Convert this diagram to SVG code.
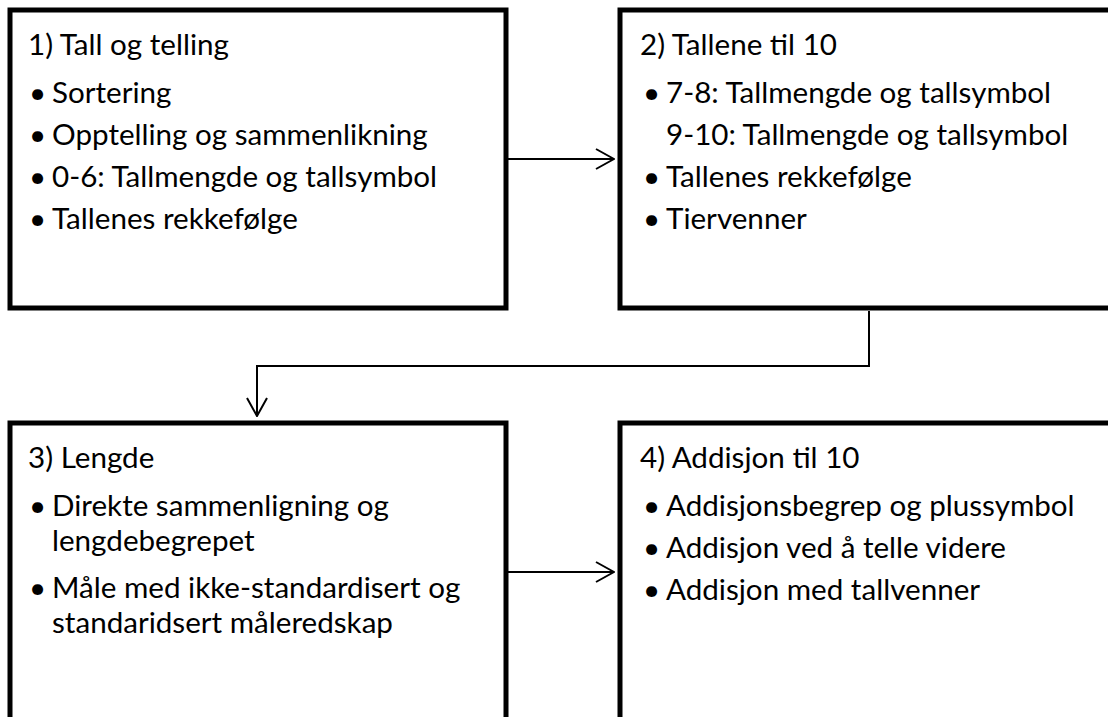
<svg xmlns="http://www.w3.org/2000/svg" width="1108" height="717" viewBox="0 0 1108 717">
  <defs>
    <style>
      .box { fill: #ffffff; stroke: #000000; stroke-width: 5; }
      .t { font-family: Lato, "Open Sans", "Noto Sans", sans-serif; font-size: 29.6px; fill: #000000; }
      .conn { fill: none; stroke: #000000; stroke-width: 2; }
    </style>
    <marker id="arrow" viewBox="0 0 20 22" refX="19" refY="11" markerWidth="20" markerHeight="22" markerUnits="userSpaceOnUse" orient="auto">
      <path d="M1,1 L19,11 L1,21" fill="none" stroke="#000000" stroke-width="2"/>
    </marker>
  </defs>
  <rect width="1108" height="717" fill="#ffffff"/>

  <g id="node1">
    <rect class="box" x="10" y="10" width="496" height="298"/>
    <text class="t" x="28" y="55">1) Tall og telling</text>
    <text class="t" x="29" y="103">•</text><text class="t" x="52" y="103">Sortering</text>
    <text class="t" x="29" y="145">•</text><text class="t" x="52" y="145">Opptelling og sammenlikning</text>
    <text class="t" x="29" y="187">•</text><text class="t" x="52" y="187">0-6: Tallmengde og tallsymbol</text>
    <text class="t" x="29" y="229">•</text><text class="t" x="52" y="229">Tallenes rekkefølge</text>
  </g>

  <g id="node2">
    <rect class="box" x="620" y="10" width="496" height="298"/>
    <text class="t" x="640" y="55">2) Tallene til 10</text>
    <text class="t" x="643" y="103">•</text><text class="t" x="666" y="103">7-8: Tallmengde og tallsymbol</text>
    <text class="t" x="666" y="145">9-10: Tallmengde og tallsymbol</text>
    <text class="t" x="643" y="187">•</text><text class="t" x="666" y="187">Tallenes rekkefølge</text>
    <text class="t" x="643" y="229">•</text><text class="t" x="666" y="229">Tiervenner</text>
  </g>

  <g id="node3">
    <rect class="box" x="10" y="423" width="496" height="298"/>
    <text class="t" x="28" y="468">3) Lengde</text>
    <text class="t" x="29" y="516">•</text><text class="t" x="52" y="516">Direkte sammenligning og</text>
    <text class="t" x="52" y="551">lengdebegrepet</text>
    <text class="t" x="29" y="598">•</text><text class="t" x="52" y="598">Måle med ikke-standardisert og</text>
    <text class="t" x="52" y="633">standaridsert måleredskap</text>
  </g>

  <g id="node4">
    <rect class="box" x="620" y="423" width="496" height="298"/>
    <text class="t" x="640" y="468">4) Addisjon til 10</text>
    <text class="t" x="643" y="516">•</text><text class="t" x="666" y="516">Addisjonsbegrep og plussymbol</text>
    <text class="t" x="643" y="558">•</text><text class="t" x="666" y="558">Addisjon ved å telle videre</text>
    <text class="t" x="643" y="600">•</text><text class="t" x="666" y="600">Addisjon med tallvenner</text>
  </g>

  <g id="connectors">
    <path class="conn" d="M508,159 L614,159" marker-end="url(#arrow)"/>
    <path class="conn" d="M869,311 L869,366 L257,366 L257,416" marker-end="url(#arrow)"/>
    <path class="conn" d="M508,572 L614,572" marker-end="url(#arrow)"/>
  </g>
</svg>
